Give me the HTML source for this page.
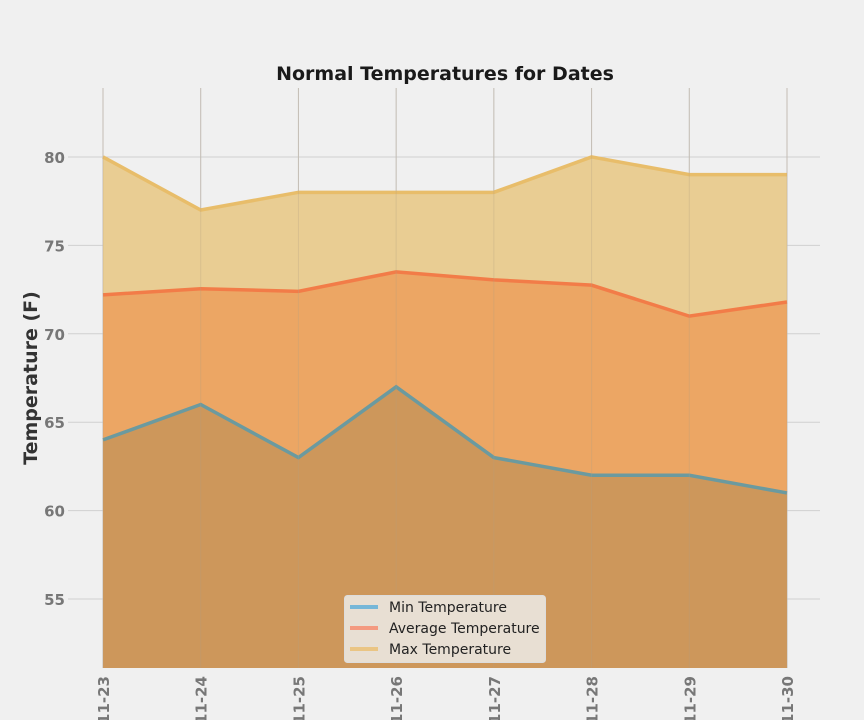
<!DOCTYPE html>
<html><head><meta charset="utf-8"><style>
html,body{margin:0;background:#f0f0f0;width:864px;height:720px;overflow:hidden;}
svg{display:block;font-family:"Liberation Sans","DejaVu Sans",sans-serif;overflow:hidden;}
</style></head><body>
<svg id="chart" width="864" height="720" viewBox="0 0 864 720">
<defs><clipPath id="frame"><rect x="0" y="0" width="864" height="720"/></clipPath></defs>
<rect width="864" height="720" fill="#f0f0f0"/>
<g id="grid"></g>
<g id="areas"></g>
<g id="lines"></g>
<g id="ticks" clip-path="url(#frame)"></g>
<text x="445" y="80" text-anchor="middle" font-size="19" font-weight="bold" fill="#1a1a1a" font-family="DejaVu Sans, sans-serif">Normal Temperatures for Dates</text>
<text transform="translate(37,378) rotate(-90)" text-anchor="middle" font-size="19" font-weight="bold" fill="#333" font-family="DejaVu Sans, sans-serif">Temperature (F)</text>
<g font-family="DejaVu Sans, sans-serif">
<rect x="344.5" y="595.5" width="201" height="67" rx="3" fill="#e8dfd3" stroke="#ddd"/>
<line x1="350" y1="607" x2="378" y2="607" stroke="#76b7d8" stroke-width="4"/>
<text x="389" y="612" font-size="14" fill="#222">Min Temperature</text>
<line x1="350" y1="628" x2="378" y2="628" stroke="#f49a80" stroke-width="4"/>
<text x="389" y="633" font-size="14" fill="#222">Average Temperature</text>
<line x1="350" y1="649" x2="378" y2="649" stroke="#eac584" stroke-width="4"/>
<text x="389" y="654" font-size="14" fill="#222">Max Temperature</text>
</g>
</svg>
<script>
const dates=["2018-11-23","2018-11-24","2018-11-25","2018-11-26","2018-11-27","2018-11-28","2018-11-29","2018-11-30"];
const minTemps=[64,66,63,67,63,62,62,61];
const avgTemps=[72.2,72.55,72.4,73.5,73.05,72.75,71.0,71.8];
const maxTemps=[80,77,78,78,78,80,79,79];
const yTicks=[55,60,65,70,75,80];
const NS="http://www.w3.org/2000/svg";
const X0=103,X1=787,Y_MIN=51.1,Y_MAX=83.9,PTOP=88,PBOT=668;
const xs=i=>X0+(X1-X0)*i/(dates.length-1);
const ys=v=>PBOT-(v-Y_MIN)/(Y_MAX-Y_MIN)*(PBOT-PTOP);
function mk(tag,attrs,parent){const e=document.createElementNS(NS,tag);for(const k in attrs)e.setAttribute(k,attrs[k]);document.getElementById(parent).appendChild(e);return e;}
yTicks.forEach(t=>{
 const l=mk('line',{x1:68,x2:820,y1:ys(t),y2:ys(t),stroke:'#d0d0d0','stroke-width':1},'grid');
 
 
 const tx=mk('text',{x:65,y:ys(t)+6,'text-anchor':'end','font-size':15,'font-weight':'bold',fill:'#777','font-family':'DejaVu Sans, sans-serif'},'ticks');
 tx.textContent=t;
 
 
});
dates.forEach((d,i)=>{
 const l=mk('line',{x1:xs(i),x2:xs(i),y1:PTOP,y2:PBOT,stroke:'#cbcbcb','stroke-width':1},'grid');
 
 
 const tx=mk('text',{transform:`translate(${xs(i)+6},676) rotate(-90)`,'text-anchor':'end','font-size':15,'font-weight':'bold',fill:'#777','font-family':'DejaVu Sans, sans-serif'},'ticks');
 tx.textContent=d.slice(5);
 
 
});
const series=[[maxTemps,'#e9cd93','#e8bd6a','max'],[avgTemps,'#eca664','#f27c48','avg'],[minTemps,'#cd975b','#6b9a9f','min']];
series.forEach(([vals,fill,stroke,n])=>{
 const pts=vals.map((v,i)=>xs(i)+','+ys(v)).join(' ');
 const a=mk('polygon',{points:`${X0},${PBOT} ${pts} ${X1},${PBOT}`,fill:fill},'areas');
 
 
});
series.forEach(([vals,fill,stroke,n])=>{
 const pts=vals.map((v,i)=>xs(i)+','+ys(v)).join(' ');
 const l=mk('polyline',{points:pts,fill:'none',stroke:stroke,'stroke-width':3.5},'lines');
 
 
});
dates.forEach((d,i)=>{
 const l=mk('line',{x1:xs(i),x2:xs(i),y1:PTOP,y2:PBOT,stroke:'rgba(180,160,130,0.3)','stroke-width':1},'lines');
 
 
});
</script>
</body></html>
